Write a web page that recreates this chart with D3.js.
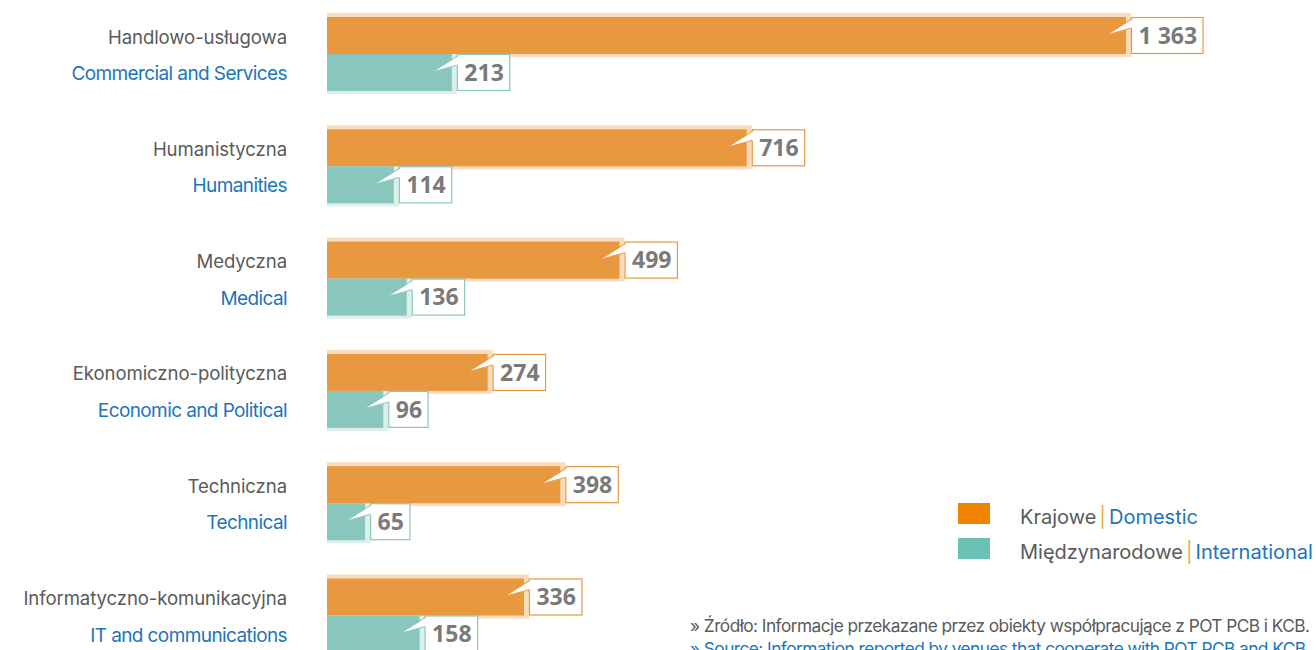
<!DOCTYPE html>
<html>
<head>
<meta charset="utf-8">
<script src="https://cdn.jsdelivr.net/npm/d3@7"></script>
<style>
  body { margin: 0; background: #fff; overflow: hidden; }
</style>
</head>
<body>
<script>
"use strict";
(function(){
    // categories and values
    const categoriesPl = ["Handlowo-usługowa", "Humanistyczna", "Medyczna", "Ekonomiczno-polityczna", "Techniczna", "Informatyczno-komunikacyjna"]
    const categoriesEn = ["Commercial and Services", "Humanities", "Medical", "Economic and Political", "Technical", "IT and communications"]
    const domestic = [1363, 716, 499, 274, 398, 336]
    const international = [213, 114, 136, 96, 65, 158]
    const seriesKeys = ["domestic", "international"]
    const legendPl = ["Krajowe", "Międzynarodowe"]
    const legendEn = ["Domestic", "International"]
    const sourcePl = "» Źródło: Informacje przekazane przez obiekty współpracujące z POT PCB i KCB."
    const sourceEn = "» Source: Information reported by venues that cooperate with POT PCB and KCB."

    const measurements = {
        width: 1316,
        height: 650
    }

    const colors = {
        domestic: { bar: "#E8983F", glow: "#FADCBD", legend: "#F08300" },
        international: { bar: "#89C6BD", glow: "#DDEFEB", legend: "#6CC1B5" }
    }
    const greyText = "#5a5a5a"
    const blueText = "#1B75BB"

    const svgContainer = d3.select('body').append("svg")
        .attr('width', measurements.width)
        .attr('height', measurements.height)

    const rows = categoriesPl.map((c, i) => ({
        key: c,
        en: categoriesEn[i],
        domestic: domestic[i],
        international: international[i]
    }))

    // scales
    const scaleX = d3.scaleLinear()
        .domain([0, d3.max(domestic)])
        .range([327, 1126])

    const scaleY = d3.scaleBand()
        .domain(categoriesPl)
        .range([17, 652.5])
        .paddingInner(0.341)
        .paddingOuter(0)

    const scaleSeries = d3.scaleBand()
        .domain(seriesKeys)
        .range([0, scaleY.bandwidth()])

    const fmt = d3.formatLocale({ decimal: ",", thousands: " ", grouping: [3], currency: ["", ""] }).format(",")

    // left labels
    const labels = svgContainer.append('g')
    labels.selectAll('.pl')
        .data(rows)
        .enter().append('text')
        .attr('x', 287)
        .attr('y', d => scaleY(d.key) + scaleSeries("domestic") + scaleSeries.bandwidth() / 2 + 1.5)
        .attr('dy', '0.35em')
        .attr('text-anchor', 'end')
        .style('font-family', 'Inter, "Noto Sans", sans-serif')
        .style('font-size', '18.6px')
        .style('letter-spacing', '-0.1px')
        .attr('fill', greyText)
        .text(d => d.key)

    labels.selectAll('.en')
        .data(rows)
        .enter().append('text')
        .attr('x', 287)
        .attr('y', d => scaleY(d.key) + scaleSeries("international") + scaleSeries.bandwidth() / 2 + 1)
        .attr('dy', '0.35em')
        .attr('text-anchor', 'end')
        .style('font-family', 'Inter, "Noto Sans", sans-serif')
        .style('font-size', '19px')
        .style('letter-spacing', '-0.6px')
        .attr('fill', blueText)
        .text(d => d.en)

    // bars
    const groups = svgContainer.selectAll('.group')
        .data(rows)
        .enter().append('g')
        .attr('class', 'group')
        .attr('transform', d => "translate(0," + scaleY(d.key) + ")")

    seriesKeys.forEach(function(s) {
        // soft glow behind bar
        groups.append('rect')
            .attr('x', scaleX(0))
            .attr('y', scaleSeries(s) - (s === "domestic" ? 4 : 0))
            .attr('width', d => scaleX(d[s]) - scaleX(0) + 5)
            .attr('height', scaleSeries.bandwidth() + (s === "domestic" ? 7 : 3))
            .attr('fill', colors[s].glow)
    })
    seriesKeys.forEach(function(s) {
        groups.append('rect')
            .attr('x', scaleX(0))
            .attr('y', scaleSeries(s))
            .attr('width', d => scaleX(d[s]) - scaleX(0))
            .attr('height', scaleSeries.bandwidth())
            .attr('fill', colors[s].bar)
    })

    // callout value labels
    seriesKeys.forEach(function(s) {
        const g = groups.append('g')
        const top = scaleSeries(s)
        const h = scaleSeries.bandwidth()
        g.each(function(d) {
            const sel = d3.select(this)
            const boxX = scaleX(d[s]) + 5.5
            const txt = sel.append('text')
                .attr('x', boxX + 7)
                .attr('y', top + h / 2)
                .attr('dy', '0.36em')
                .style('font-family', '"Open Sans", sans-serif')
                .style('font-weight', 700)
                .style('font-size', '23px')
                .attr('fill', '#7a7a7a')
                .text(fmt(d[s]))
            const tw = txt.node().getComputedTextLength()
            sel.insert('rect', 'text')
                .attr('x', boxX)
                .attr('y', top + 0.5)
                .attr('width', tw + 13)
                .attr('height', h - 1)
                .attr('fill', '#fff')
                .attr('stroke', colors[s].bar)
                .attr('stroke-width', 1.2)
            const tipX = boxX - 25
            const tipY = top + 18
            sel.insert('path', 'text')
                .attr('d', "M" + (boxX + 1.5) + "," + (top + 2) + "L" + tipX + "," + tipY + "L" + (boxX + 1.5) + "," + (top + 11) + "Z")
                .attr('fill', '#fff')
            sel.insert('path', 'text')
                .attr('d', "M" + boxX + "," + (top + 2) + "L" + tipX + "," + tipY + "L" + boxX + "," + (top + 11))
                .attr('fill', 'none')
                .attr('stroke', colors[s].bar)
                .attr('stroke-width', 1)
        })
    })

    // legend
    const legend = svgContainer.selectAll('.legend')
        .data(seriesKeys)
        .enter().append('g')
        .attr('class', 'legend')
        .attr('transform', (d, i) => "translate(958," + (503 + i * 35) + ")")

    legend.append('rect')
        .attr('width', 32)
        .attr('height', 21)
        .attr('fill', d => colors[d].legend)

    const legendText = legend.append('text')
        .attr('x', 62)
        .attr('y', 14)
        .attr('dy', '0.35em')
        .style('font-family', 'Inter, "Noto Sans", sans-serif')
        .style('font-size', '20px')
    legendText.append('tspan')
        .attr('fill', greyText)
        .text((d, i) => legendPl[i])
    legendText.append('tspan')
        .attr('fill', '#E2B33C')
        .attr('dx', 3)
        .text('|')
    legendText.append('tspan')
        .attr('fill', blueText)
        .attr('dx', 3)
        .text((d, i) => legendEn[i])

    // source notes
    svgContainer.append('text')
        .attr('x', 690)
        .attr('y', 632)
        .style('font-family', 'Inter, "Noto Sans", sans-serif')
        .style('font-size', '17.3px')
        .style('letter-spacing', '-0.55px')
        .attr('fill', greyText)
        .text(sourcePl)

    svgContainer.append('text')
        .attr('x', 690)
        .attr('y', 655)
        .style('font-family', 'Inter, "Noto Sans", sans-serif')
        .style('font-size', '17.3px')
        .style('letter-spacing', '-0.55px')
        .style('text-decoration', 'underline')
        .attr('fill', blueText)
        .text(sourceEn)
})()
</script>
</body>
</html>
